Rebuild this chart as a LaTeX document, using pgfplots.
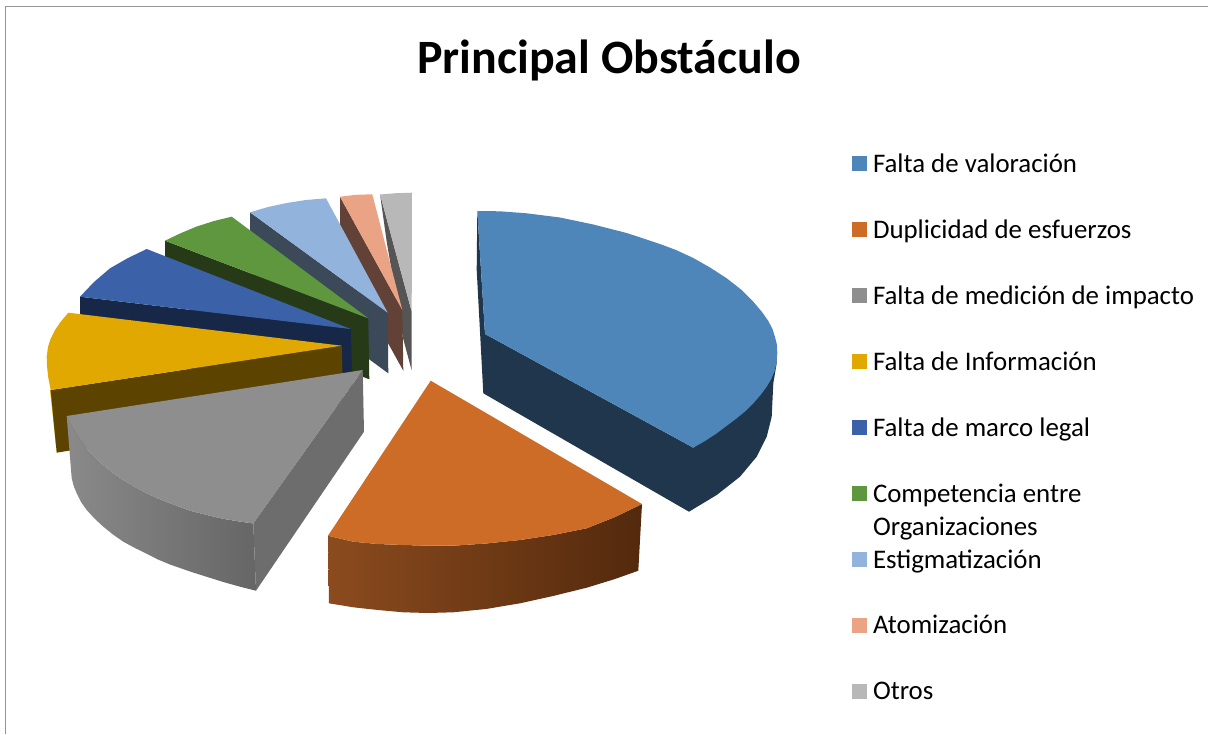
\documentclass[border=0pt]{standalone}
\usepackage{fontspec}
\setmainfont{Carlito}
\usepackage{pgfplots}
\pgfplotsset{compat=1.18}

\definecolor{valtop}{HTML}{4F86BA}
\definecolor{valside}{HTML}{20364C}
\definecolor{duptop}{HTML}{CD6C27}
\definecolor{medtop}{HTML}{8E8E8E}
\definecolor{medside}{HTML}{6D6D6D}
\definecolor{inftop}{HTML}{E0A800}
\definecolor{infside}{HTML}{5C4300}
\definecolor{martop}{HTML}{3B62A9}
\definecolor{marside}{HTML}{162747}
\definecolor{comtop}{HTML}{5F973E}
\definecolor{comside}{HTML}{263A18}
\definecolor{esttop}{HTML}{92B3DC}
\definecolor{estside}{HTML}{3B4958}
\definecolor{atotop}{HTML}{EBA385}
\definecolor{atoside}{HTML}{624236}
\definecolor{otrtop}{HTML}{B8B8B8}
\definecolor{otrside}{HTML}{555555}

\begin{document}
\begin{tikzpicture}
\path[use as bounding box] (0,0) rectangle (1208pt,734pt);
\begin{axis}[
    at={(0,0)},
    anchor=south west,
    scale only axis,
    width=1208pt,
    height=734pt,
    xmin=0, xmax=1208,
    ymin=0, ymax=734,
    y dir=reverse,
    axis lines=none,
    no markers,
    every axis plot/.append style={draw=none, forget plot},
    legend style={
        at={(axis cs:852,149.5)},
        anchor=north west,
        draw=none,
        fill=none,
        inner sep=0pt,
        outer sep=0pt,
        row sep=41.3pt,
        font=\fontsize{26.85}{33}\selectfont,
        nodes={inner sep=0pt, outer sep=0pt},
    },
    legend cell align=left,
    legend image code/.code={\fill[#1] (0pt,-9.5pt) rectangle (15pt,5.5pt); \path (21pt,0pt);},
]
% page frame
\addplot[draw=black!42, line width=1.3pt] coordinates {(5.5,734) (5.5,6.5) (1208,6.5)};

% slices, back to front: side wall then top
\addplot[fill=otrside] coordinates {(380,194) (411.7,311.7) (411.7,370.5) (403,338) (386.7,241.7)};
\addplot[fill=otrtop] coordinates {(380,194.5) (396,193.2) (412,192.7) (411.7,311.7)};

\addplot[fill=atoside] coordinates {(340,196.7) (402.3,310) (403.3,370.7) (340,256.7)};
\addplot[fill=atotop] coordinates {(340,196.7) (356,194.8) (372.3,194.3) (402.3,310)};

\addplot[fill=estside] coordinates {(250,212.3) (387.7,312.7) (388.3,373.3) (250,272)};
\addplot[fill=esttop] coordinates {(250,212.3) (268,207) (286.7,203) (306,200) (326,198.3) (387.7,312.7)};

\addplot[fill=comside] coordinates {(165,240.7) (368.3,318.3) (369.3,379.3) (165,300)};
\addplot[fill=comtop] coordinates {(165,240.7) (180,233.5) (196.7,226.5) (214,221) (231.7,216.7) (368.3,318.3)};

\addplot[fill=marside] coordinates {(80,296.7) (350.7,329) (352.7,390) (80,356)};
\addplot[fill=martop] coordinates {(80,296.7) (94,282) (110,268.3) (128,258) (146.7,249) (350.7,329)};

\addplot[fill=inftop] coordinates {(50,390) (52,390) (56.7,452.7)};
\addplot[fill=infside] coordinates {(50.7,390) (341.7,345.7) (343.3,405) (56.7,452.7)};
\addplot[fill=inftop] coordinates {(68.3,312.7) (60.5,322) (55,330) (50.5,339) (48,347) (46.7,356.7) (47,366) (48.2,377) (50.7,390) (341.7,345.7)};

\addplot[fill=medside] coordinates {(362.7,370) (253.3,523.3) (256,590.7) (364,431.7)};
\addplot[left color=black!46, right color=black!60] coordinates {(66.7,416) (70.5,424) (75,431.7) (80.5,440) (86.7,448.3) (94.5,457) (103.3,465) (113,473) (123.3,480) (135,487) (146.7,493.3) (158,498.5) (170,503.3) (190,510.7) (206.7,515) (223.3,518.8) (240,521.6) (253.3,523.5) (256,590.7) (240,586.7) (223.3,582) (206.7,576.8) (190,571.5) (170,564.5) (158,559.5) (146.7,553.8) (135,548) (123.3,541.7) (113,534.5) (103.3,526.7) (94.5,518.5) (86.7,510) (81,502) (76.7,493.3) (73.7,486) (71.7,478.3)};
\addplot[fill=medtop] coordinates {(66.7,416) (362.7,370) (253.3,523.5) (240,521.6) (223.3,518.8) (206.7,515) (190,510.7) (170,503.3) (158,498.5) (146.7,493.3) (135,487) (123.3,480) (113,473) (103.3,465) (94.5,457) (86.7,448.3) (80.5,440) (75,431.7) (70.5,424)};

\addplot[left color={rgb,255:red,139;green,75;blue,30}, right color={rgb,255:red,83;green,41;blue,13}] coordinates {(328,535.7) (353.3,541.7) (378,544) (403.3,545) (428,545.7) (453.3,545.7) (486,543.5) (520,540) (553,535) (586.7,528.3) (615,517) (642,504) (638.3,570.7) (615,579) (586.7,587.7) (553,596) (520,603.3) (486,609) (453.3,612.3) (428,613) (403.3,612.3) (378,610) (353.3,607.3) (329,603.3)};
\addplot[fill=duptop] coordinates {(430.7,380.7) (642,504) (615,517) (586.7,528.3) (553,535) (520,540) (486,543.5) (453.3,545.7) (428,545.7) (403.3,545) (378,544) (353.3,541.7) (328,535.7)};

\addplot[fill=valside] coordinates {(477.3,211) (476.7,270) (483.3,393.3) (689,511.7) (716.7,495) (740,476.7) (756.7,456.7) (766.7,436.7) (771.7,416.7) (773.3,383.3) (776.7,363.3) (776.7,353.3) (693.3,447.7) (485,334)};
\addplot[fill=valtop] coordinates {(477.3,211) (500,211.3) (526.7,213.3) (560,217.5) (593.3,224.5) (626.7,233) (660,244) (676,250) (693.3,258) (710,267.5) (726.7,278.3) (741,289.5) (753.3,301.7) (762,312) (768.3,321) (772.5,329) (775,337) (777,345) (777.3,353.3) (776.5,362) (775,370) (771.5,378.5) (766.7,386.7) (760.5,395) (753.3,403.3) (745.5,411) (736.7,418.3) (716.7,433.3) (705,441) (693.3,447.7) (485,334)};

% legend
\addlegendimage{fill=valtop}
\addlegendentry{\strut Falta de valoración}
\addlegendimage{fill=duptop}
\addlegendentry{\strut Duplicidad de esfuerzos}
\addlegendimage{fill=medtop}
\addlegendentry{\strut Falta de medición de impacto}
\addlegendimage{fill=inftop}
\addlegendentry{\strut Falta de Información}
\addlegendimage{fill=martop}
\addlegendentry{\strut Falta de marco legal}
\addlegendimage{fill=comtop}
\addlegendentry{{\strut\smash{\begin{tabular}[t]{@{}l@{}}Competencia entre\\Organizaciones\end{tabular}}}}
\addlegendimage{fill=esttop}
\addlegendentry{\strut Estigmatización}
\addlegendimage{fill=atotop}
\addlegendentry{\strut Atomización}
\addlegendimage{fill=otrtop}
\addlegendentry{\strut Otros}

\node[anchor=base, font=\fontsize{47.9}{56}\selectfont\bfseries] at (axis cs:609,73) {Principal Obstáculo};
\end{axis}
\end{tikzpicture}
\end{document}
